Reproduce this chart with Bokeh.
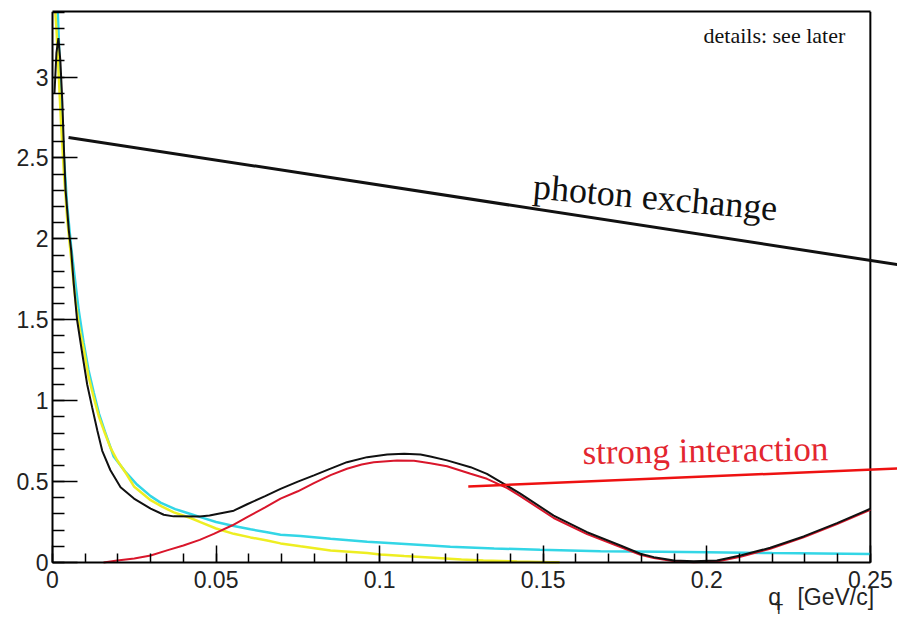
from bokeh.plotting import figure
from bokeh.models import (Range1d, LinearAxis, Label, FixedTicker,
                          SingleIntervalTicker, CustomJSTickFormatter)
from bokeh.embed import file_html
from bokeh.resources import INLINE

# ---- curves in q_T [GeV/c] ----
yellow_x = [0.0005, 0.0012, 0.0018, 0.0026, 0.0035, 0.0045, 0.0057, 0.007, 0.0082,
            0.0096, 0.011, 0.0126, 0.0142, 0.0157, 0.0177, 0.0198, 0.0225, 0.0249,
            0.030, 0.0335, 0.0371, 0.0422, 0.0452, 0.050, 0.0554, 0.0605, 0.0656,
            0.0697, 0.0758, 0.085, 0.0962, 0.1002, 0.1075, 0.1165, 0.125, 0.1317,
            0.142, 0.152, 0.155]
yellow_y = [3.5, 3.3, 3.05, 2.72, 2.4, 2.12, 1.88, 1.62, 1.45,
            1.31, 1.15, 1.02, 0.9, 0.816, 0.71, 0.63, 0.55, 0.47,
            0.385, 0.345, 0.31, 0.275, 0.249, 0.21, 0.177, 0.155, 0.136,
            0.118, 0.1, 0.074, 0.058, 0.049, 0.04, 0.03, 0.018, 0.012,
            0.006, 0.002, 0.001]

cyan_x = [0.0005, 0.0012, 0.0018, 0.0026, 0.0035, 0.0045, 0.0057, 0.0068, 0.008,
          0.0095, 0.011, 0.0126, 0.0142, 0.016, 0.0187, 0.0225, 0.0259, 0.030,
          0.033, 0.0375, 0.0422, 0.0452, 0.050, 0.0554, 0.0605, 0.0656, 0.0697,
          0.0758, 0.085, 0.0962, 0.1002, 0.1155, 0.1216, 0.135, 0.149, 0.1675,
          0.1858, 0.2, 0.22, 0.235, 0.25]
cyan_y = [3.9, 3.6, 3.3, 2.85, 2.5, 2.2, 1.95, 1.76, 1.56,
          1.36, 1.19, 1.05, 0.92, 0.81, 0.655, 0.555, 0.48, 0.41,
          0.37, 0.33, 0.30, 0.28, 0.25, 0.225, 0.205, 0.187, 0.172,
          0.163, 0.146, 0.128, 0.124, 0.105, 0.097, 0.087, 0.078, 0.07,
          0.066, 0.063, 0.058, 0.055, 0.052]

red_x = [0.0156, 0.0198, 0.025, 0.030, 0.035, 0.040, 0.045, 0.0493, 0.055, 0.0595,
         0.065, 0.0697, 0.075, 0.0799, 0.085, 0.090, 0.0945, 0.0982, 0.1053, 0.1105,
         0.1155, 0.1206, 0.1278, 0.1328, 0.139, 0.143, 0.1532, 0.1634, 0.1736,
         0.1797, 0.1838, 0.19, 0.196, 0.2031, 0.2103, 0.2194, 0.2296, 0.2398, 0.25]
red_y = [0.0, 0.012, 0.025, 0.043, 0.075, 0.105, 0.14, 0.177, 0.23, 0.28,
         0.34, 0.395, 0.44, 0.49, 0.54, 0.579, 0.605, 0.62, 0.63, 0.628,
         0.613, 0.595, 0.548, 0.517, 0.46, 0.41, 0.275, 0.175, 0.095,
         0.048, 0.027, 0.008, 0.002, 0.006, 0.035, 0.085, 0.155, 0.237, 0.325]

black_x = [0.0006, 0.0012, 0.0018, 0.0024, 0.003, 0.0035, 0.004, 0.005, 0.0057,
           0.0065, 0.0075, 0.0091, 0.0106, 0.0121, 0.0137, 0.0152, 0.0177, 0.0208,
           0.0249, 0.030, 0.034, 0.037, 0.045, 0.048, 0.0503, 0.0554, 0.0595,
           0.065, 0.0697, 0.075, 0.0799, 0.085, 0.090, 0.0962, 0.1023, 0.1075,
           0.1125, 0.1155, 0.1206, 0.1278, 0.1328, 0.1385, 0.143, 0.1532, 0.1634,
           0.1736, 0.1797, 0.1838, 0.19, 0.196, 0.2031, 0.2103, 0.2194, 0.2296,
           0.2398, 0.25]
black_y = [2.9, 3.15, 3.24, 3.1, 2.85, 2.55, 2.3, 2.05, 1.93,
           1.72, 1.5, 1.29, 1.10, 0.96, 0.816, 0.69, 0.57, 0.465,
           0.395, 0.333, 0.295, 0.285, 0.284, 0.29, 0.30, 0.32, 0.36,
           0.41, 0.455, 0.50, 0.538, 0.58, 0.62, 0.651, 0.667, 0.672,
           0.667, 0.655, 0.631, 0.589, 0.548, 0.48, 0.425, 0.29, 0.187,
           0.105, 0.054, 0.033, 0.012, 0.008, 0.012, 0.043, 0.091, 0.161,
           0.243, 0.332]

# straight annotation lines
photon_x = [0.0049, 0.2583]
photon_y = [2.627, 1.841]
strong_x = [0.1271, 0.2583]
strong_y = [0.470, 0.581]

X_MAX = 0.25
Y_MAX = 3.405

# the frame fills the canvas below and to the left so that both axes sit at
# the origin and the tick labels / axis title are ordinary in-frame text
p = figure(width=897, height=617, output_backend="svg", toolbar_location=None,
           x_range=Range1d(-0.0159, 0.2583), y_range=Range1d(-0.34, Y_MAX),
           min_border_left=0, min_border_right=0, min_border_top=11,
           min_border_bottom=0)
p.outline_line_color = None
p.grid.visible = False
p.background_fill_color = "white"
p.border_fill_color = "white"

fmt = CustomJSTickFormatter(code="""
    return tick.toFixed(3).replace(/0+$/, '').replace(/\\.$/, '');
""")

for ax in (p.xaxis[0], p.yaxis[0]):
    ax.axis_line_width = 2
    ax.axis_line_color = "black"
    ax.major_tick_line_width = 1.5
    ax.minor_tick_line_width = 1.5
    ax.major_tick_out = 0
    ax.minor_tick_out = 0
    ax.major_label_text_font = "Liberation Sans"
    ax.major_label_text_font_size = "23px"
    ax.major_label_text_color = "#222222"
    ax.formatter = fmt

p.xaxis.fixed_location = 0
p.xaxis.bounds = (0, X_MAX)
p.xaxis.ticker = SingleIntervalTicker(interval=0.05, num_minor_ticks=5)
p.xaxis.major_tick_in = 17
p.xaxis.minor_tick_in = 9
p.xaxis.major_label_standoff = 9

p.yaxis.fixed_location = 0
p.yaxis.bounds = (0, Y_MAX)
p.yaxis.ticker = SingleIntervalTicker(interval=0.5, num_minor_ticks=5)
p.yaxis.major_tick_in = 25
p.yaxis.minor_tick_in = 12
p.yaxis.major_label_standoff = 4

# frame: top edge and right edge
top = LinearAxis(ticker=FixedTicker(ticks=[]), bounds=(0, X_MAX),
                 axis_line_width=2, axis_line_color="black",
                 major_tick_in=0, major_tick_out=0, minor_tick_in=0, minor_tick_out=0)
p.add_layout(top, "above")
p.segment(x0=[X_MAX], y0=[0], x1=[X_MAX], y1=[Y_MAX], line_color="black", line_width=2)

# curves (yellow drawn over cyan, black on top)
p.line(cyan_x, cyan_y, line_color="#33d6e6", line_width=2.5)
p.line(yellow_x, yellow_y, line_color="#eeee22", line_width=2.5)
p.line(red_x, red_y, line_color="#d9162b", line_width=2)
p.line(black_x, black_y, line_color="#111111", line_width=2)

# annotation lines
p.line(photon_x, photon_y, line_color="#111111", line_width=3)
p.line(strong_x, strong_y, line_color="#ee1111", line_width=2.5)

p.add_layout(Label(x=0.147, y=2.324, text="photon exchange", angle=-0.09,
                   text_font="Liberation Serif", text_font_size="36px",
                   text_color="#111111", text_baseline="alphabetic"))
p.add_layout(Label(x=0.162, y=0.680, text="strong interaction", angle=0.015,
                   text_font="Liberation Serif", text_font_size="35px",
                   text_color="#e3262f", text_baseline="alphabetic"))
p.add_layout(Label(x=0.199, y=3.257, text="details: see later",
                   text_font="Liberation Serif", text_font_size="22px",
                   text_color="#111111", text_baseline="alphabetic"))

# x-axis title q_T [GeV/c]
p.add_layout(Label(x=0.2188, y=-0.216, text="q", text_font="Liberation Sans",
                   text_font_size="23px", text_color="#222222", text_baseline="alphabetic"))
p.add_layout(Label(x=0.2207, y=-0.288, text="T", text_font="Liberation Sans",
                   text_font_size="14px", text_color="#222222", text_baseline="alphabetic"))
p.add_layout(Label(x=0.2277, y=-0.216, text="[GeV/c]", text_font="Liberation Sans",
                   text_font_size="23px", text_color="#222222", text_baseline="alphabetic"))

open("out.html", "w").write(file_html(p, INLINE))
